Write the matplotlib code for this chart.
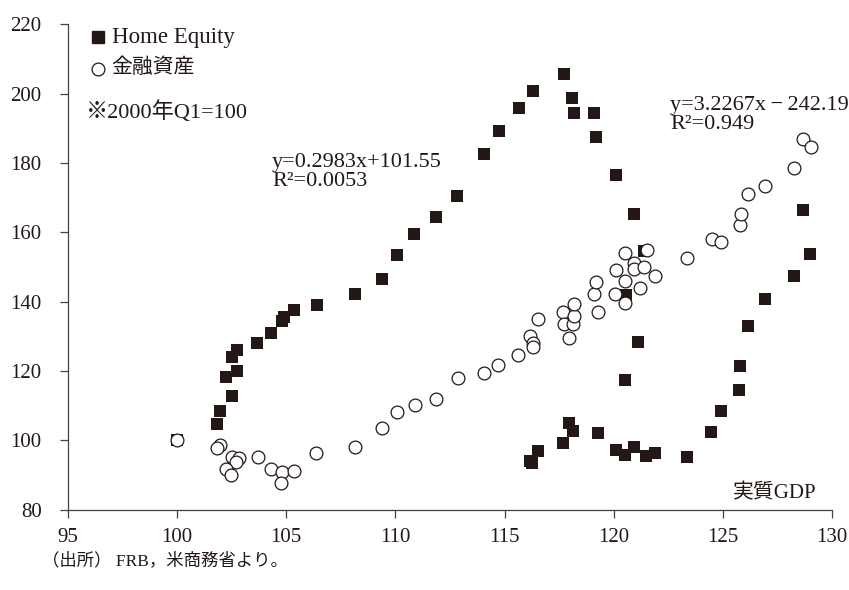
import matplotlib
matplotlib.use("Agg")
import matplotlib.pyplot as plt

plt.rcParams['font.family'] = ['Liberation Serif', 'Noto Sans CJK JP']

# 実質GDP と Home Equity（2000年Q1=100）
he_gdp = [100.0, 101.84, 101.98, 102.5, 102.76, 102.25, 102.76, 102.5, 103.68, 104.28,
          104.79, 104.88, 105.34, 106.4, 108.15, 109.39, 110.08, 110.86, 111.87, 112.84,
          114.08, 114.73, 115.65, 116.29, 117.72, 118.09, 118.18, 119.1, 119.19, 120.11,
          120.94, 121.4, 120.57, 121.12, 120.51, 117.93, 118.12, 117.66, 116.55, 116.17,
          116.28, 119.27, 120.11, 120.51, 120.94, 121.48, 121.89, 123.36, 124.45, 124.9,
          125.74, 125.79, 126.15, 126.92, 128.25, 128.99, 128.65]
he_val = [100.0, 104.6, 108.6, 112.9, 120.1, 118.4, 126.1, 123.9, 128.2, 131.1,
          134.3, 135.5, 137.6, 139.0, 142.2, 146.6, 153.4, 159.5, 164.4, 170.4,
          182.5, 189.3, 195.8, 200.8, 205.6, 198.6, 194.4, 194.5, 187.6, 176.4,
          165.2, 154.6, 141.8, 128.4, 117.5, 105.1, 102.8, 99.3, 96.8, 94.0,
          93.4, 102.0, 97.3, 95.9, 98.2, 95.5, 96.5, 95.3, 102.5, 108.4,
          114.4, 121.4, 133.0, 140.8, 147.4, 153.7, 166.3]

# 実質GDP と 金融資産（2000年Q1=100）
fa_gdp = [100.0, 101.98, 101.83, 102.52, 102.82, 102.71, 102.24, 102.48, 103.7, 104.28,
          104.82, 104.76, 105.35, 106.37, 108.15, 109.39, 110.08, 110.9, 111.87, 112.86,
          114.07, 114.71, 115.63, 116.17, 116.29, 116.31, 116.53, 117.93, 117.69, 117.71,
          118.12, 118.2, 118.16, 119.26, 119.1, 119.18, 120.08, 120.11, 120.52, 120.53,
          120.53, 120.93, 120.93, 121.39, 121.51, 121.21, 121.89, 123.38, 124.51, 124.9,
          125.77, 125.82, 126.16, 126.94, 128.24, 128.67, 129.04]
fa_val = [100.0, 98.6, 97.7, 95.3, 94.8, 93.9, 91.7, 90.0, 95.1, 91.7,
          90.8, 87.6, 91.2, 96.3, 98.0, 103.7, 108.3, 110.3, 111.8, 118.0,
          119.3, 121.6, 124.7, 130.1, 128.2, 127.0, 135.1, 129.6, 137.0, 133.6,
          133.6, 135.9, 139.3, 136.9, 142.2, 145.8, 142.2, 149.0, 154.0, 146.0,
          139.7, 151.1, 149.3, 150.0, 155.0, 143.9, 147.5, 152.6, 158.0, 157.1,
          162.2, 165.2, 171.0, 173.3, 178.5, 186.8, 184.6]

ink = '#231815'

fig = plt.figure(figsize=(8.49, 5.90), dpi=100)
ax = fig.add_axes([0.080, 0.136, 0.900, 0.823])

ax.plot(he_gdp, he_val, linestyle='none', marker='s', markersize=8.6,
        markerfacecolor=ink, markeredgecolor=ink, markeredgewidth=0, zorder=3)
ax.plot(fa_gdp, fa_val, linestyle='none', marker='o', markersize=9.2,
        markerfacecolor='white', markeredgecolor=ink, markeredgewidth=0.9, zorder=4)

ax.set_xlim(95, 130)
ax.set_ylim(80, 220)
ax.set_xticks(range(95, 131, 5))
ax.set_yticks(range(80, 221, 20))
for s in ['top', 'right']:
    ax.spines[s].set_visible(False)
for s in ['left', 'bottom']:
    ax.spines[s].set_color('#4a4040')
    ax.spines[s].set_linewidth(0.9)
ax.tick_params(direction='out', length=6, width=0.9, color='#4a4040',
               labelsize=15, labelcolor=ink)
ax.tick_params(axis='x', pad=7)
ax.tick_params(axis='y', pad=13)

# 凡例と注記
ax.plot([96.4], [216.2], linestyle='none', marker='s', markersize=8.6,
        color=ink, clip_on=False)
ax.text(97.0, 216.2, 'Home Equity', fontsize=16.5, color=ink, va='center')
ax.plot([96.4], [207.2], linestyle='none', marker='o', markersize=9.2,
        markerfacecolor='white', markeredgecolor=ink, markeredgewidth=0.9)
ax.text(97.0, 207.2, '金融資産', fontsize=15, color=ink, va='center')
ax.text(95.8, 194.7, '※2000年Q1=100', fontsize=16, color=ink, va='center')

ax.text(104.35, 183.0, 'y=0.2983x+101.55\nR²=0.0053', fontsize=16, color=ink,
        va='top', linespacing=1.0)
ax.text(122.6, 199.2, 'y=3.2267x\u2009\u2212\u2009242.19\nR²=0.949', fontsize=16,
        color=ink, va='top', linespacing=1.0)

ax.text(129.3, 84.6, '実質GDP', fontsize=15, color=ink, ha='right', va='center')

fig.text(0.050, 0.049, '（出所） FRB，米商務省より。', fontsize=12.5, color=ink,
         va='center')

fig.savefig('out.png', dpi=100)
